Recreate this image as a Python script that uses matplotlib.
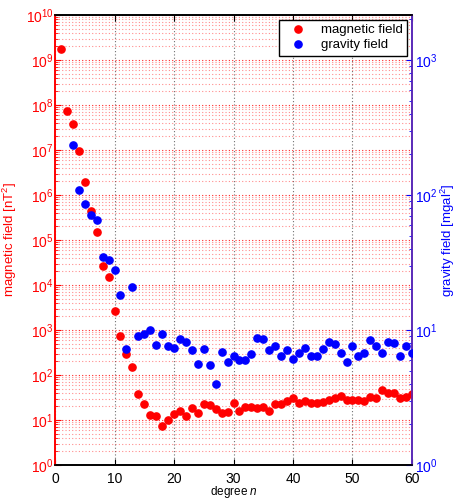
import matplotlib
matplotlib.use("Agg")
import matplotlib.pyplot as plt
import numpy as np

plt.rcParams['font.family'] = ['Liberation Sans', 'DejaVu Sans']
plt.rcParams['mathtext.fontset'] = 'custom'
plt.rcParams['mathtext.rm'] = 'Liberation Sans'
plt.rcParams['mathtext.it'] = 'Liberation Sans:italic'

# Power spectra by spherical harmonic degree
mag_degree = list(range(1, 61))
mag_power = [1.8e9, 7.2e7, 3.7e7, 9.5e6, 1.95e6, 4.3e5, 1.5e5, 2.7e4, 1.5e4, 2.7e3,
             750, 290, 148, 37, 23, 12.7, 12.3, 7.2, 10, 13.4,
             15.5, 12.5, 18.5, 14.5, 22.6, 22, 17.2, 14.5, 15, 23.4,
             15.8, 19.7, 19.7, 18.5, 19.7, 16.1, 22.3, 22.3, 26.8, 31.3,
             23.8, 26.4, 23.4, 23.4, 25.6, 28.3, 31.3, 34, 27.4, 28.3,
             28.3, 26.8, 32.4, 31.3, 46.4, 39, 40.5, 31.3, 32, 38]

grav_degree = list(range(3, 61))
grav_power = [234, 108, 86.4, 71.3, 65.1, 34.9, 33.1, 27.8, 18.2, 7.19,
              20.7, 9.05, 9.26, 10.0, 7.76, 9.33, 7.59, 7.41, 8.64, 8.13,
              7.13, 5.62, 7.19, 5.54, 3.95, 6.87, 5.80, 6.46, 5.98, 5.98,
              6.66, 8.78, 8.64, 7.13, 7.65, 6.46, 7.13, 6.07, 6.81, 7.30,
              6.41, 6.41, 7.24, 8.19, 7.94, 6.81, 5.75, 7.65, 6.46, 6.71,
              8.45, 7.65, 6.71, 8.13, 8.0, 6.41, 7.59, 6.71]

x_ticks = [0, 10, 20, 30, 40, 50, 60]

RED = '#ff0000'
BLUE = '#0000ff'
SPINE_R = '#5a2ab8'

fig = plt.figure(figsize=(4.57, 4.98), dpi=100)
ax = fig.add_axes([0.1204, 0.0663, 0.7811, 0.9036])
ax2 = ax.twinx()

ax.set_yscale('log')
ax.set_ylim(1, 1e10)
ax.set_xlim(0, 60)
ax.set_xticks(x_ticks)
ax.set_yticks([10.0 ** k for k in range(0, 11)])
ax.yaxis.set_minor_locator(matplotlib.ticker.LogLocator(base=10, subs=np.arange(2, 10), numticks=100))
ax.yaxis.set_minor_formatter(matplotlib.ticker.NullFormatter())

ax2.set_yscale('log')
ax2.set_ylim(1, 10 ** (10 / 3))
ax2.set_yticks([1, 10, 100, 1000])
ax2.yaxis.set_minor_locator(matplotlib.ticker.LogLocator(base=10, subs=np.arange(2, 10), numticks=100))
ax2.yaxis.set_minor_formatter(matplotlib.ticker.NullFormatter())

# grid
ax.grid(True, which='major', axis='y', color=RED, linestyle=(0, (1, 2)), linewidth=0.8, alpha=0.85)
ax.grid(True, which='minor', axis='y', color=RED, linestyle=(0, (1, 2)), linewidth=0.8, alpha=0.45)
ax.grid(True, which='major', axis='x', color='#707070', linestyle=(0, (1, 2)), linewidth=0.8)
ax.set_axisbelow(True)

ax.plot(mag_degree, mag_power, 'o', color=RED, markersize=5.2, linestyle='none',
        label='magnetic field', zorder=3)
ax2.plot(grav_degree, grav_power, 'o', color=BLUE, markersize=5.2, linestyle='none',
         label='gravity field', zorder=3)

# ticks and spines
ax.tick_params(axis='x', which='both', direction='in', top=True, bottom=True,
               colors='black', labelsize=10, length=4, width=0.8, pad=5)
ax.tick_params(axis='y', which='major', direction='in', colors=RED, labelsize=10,
               length=4, width=0.8, pad=1)
ax.tick_params(axis='y', which='minor', direction='in', colors=RED, length=2, width=0.6)
ax2.tick_params(axis='y', which='major', direction='in', colors=BLUE, labelsize=10,
                length=4, width=0.8, pad=2)
ax2.tick_params(axis='y', which='minor', direction='in', colors=BLUE, length=2, width=0.6)
for lbl in ax.get_yticklabels() + ax2.get_yticklabels():
    lbl.set_verticalalignment('center_baseline')

for a in (ax, ax2):
    a.spines['left'].set_color(RED)
    a.spines['right'].set_color(SPINE_R)
    a.spines['top'].set_color('black')
    a.spines['bottom'].set_color('black')
    for s in a.spines.values():
        s.set_linewidth(1.2)

ax.set_ylabel(r'magnetic field [nT$^2$]', color=RED, fontsize=9.5, labelpad=5)
ax2.set_ylabel(r'gravity field [mgal$^2$]', color=BLUE, fontsize=9.5, labelpad=1)
ax.set_xlabel(r'degree $n$', color='black', fontsize=8.5, labelpad=-1.2)

h1, l1 = ax.get_legend_handles_labels()
h2, l2 = ax2.get_legend_handles_labels()
leg = ax2.legend(h1 + h2, l1 + l2, loc='upper right', fontsize=9.5, fancybox=False,
                 edgecolor='black', framealpha=1, borderaxespad=0.35, handletextpad=0.6,
                 borderpad=0.35, labelspacing=0.2, handlelength=2.2)
leg.get_frame().set_linewidth(1.0)

fig.savefig('out.png', dpi=100)
